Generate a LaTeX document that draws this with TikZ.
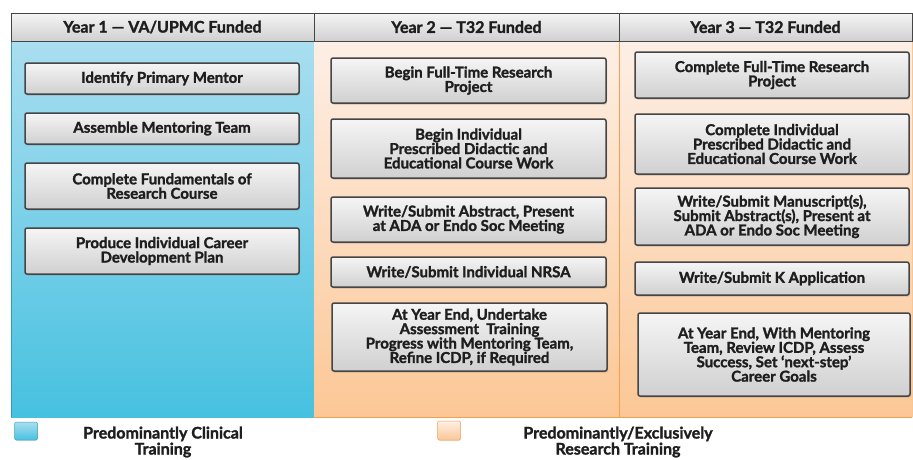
\documentclass[tikz,border=0pt]{standalone}
\usepackage{fontspec}
\setmainfont{Lato}[BoldFeatures={FakeBold=1.6}]
\usetikzlibrary{shadows}
\definecolor{txt}{HTML}{1E1E1E}
\definecolor{boxedge}{HTML}{454545}
\definecolor{blueTop}{HTML}{AADEF0}
\definecolor{blueBot}{HTML}{46C1E0}
\definecolor{orTop}{HTML}{FDEFE6}
\definecolor{orBot}{HTML}{FCC795}
\definecolor{orEdge}{HTML}{F2A04E}
\definecolor{grTop}{HTML}{F5F5F5}
\definecolor{grBot}{HTML}{D0D0D0}
\tikzset{
  box/.style={draw=boxedge, line width=1.5pt, rounded corners=2pt, top color=grTop, bottom color=grBot,
    inner sep=0pt, align=center, text=txt, font=\fontsize{15}{14.4}\selectfont\bfseries,
    drop shadow={shadow xshift=1pt, shadow yshift=-1.5pt, opacity=0.35}},
  hdr/.style={draw=boxedge, line width=1pt, top color=grTop, bottom color=grBot, inner sep=0pt,
    minimum height=28, text=txt, font=\fontsize{16}{18}\selectfont\bfseries},
  leg/.style={align=center, text=txt, font=\fontsize{16}{16}\selectfont\bfseries},
}
\begin{document}
\begin{tikzpicture}[x=1pt,y=-1pt]
\useasboundingbox (0,0) rectangle (913,459);
% panels
\fill[top color=blueTop, bottom color=blueBot] (11,41) rectangle (314,417);
\fill[top color=orTop, bottom color=orBot] (314,41) rectangle (619,417);
\fill[top color=orTop, bottom color=orBot] (619,41) rectangle (912,417);
\draw[orEdge, line width=1pt] (619,41) -- (619,417);
\draw[orEdge, line width=0.8pt] (314,417) -- (912,417);
\draw[orEdge!60, line width=0.8pt] (912,41) -- (912,417);
\draw[blueBot!80!black, line width=0.6pt] (11,41) -- (11,417);
% headers
\node[hdr, minimum width=303] (h1) at (162.5,27) {Year 1 — VA/UPMC Funded};
\node[hdr, minimum width=305] (h2) at (466.5,27) {Year 2 — T32 Funded};
\node[hdr, minimum width=293] (h3) at (765.5,27) {Year 3 — T32 Funded};
% column 1
\node[box, minimum width=274, minimum height=31] (a1) at (162,78.5) {Identify Primary Mentor};
\node[box, minimum width=274, minimum height=31] (a2) at (162,128.5) {Assemble Mentoring Team};
\node[box, minimum width=274, minimum height=46] (a3) at (162,186) {Complete Fundamentals of\\Research Course};
\node[box, minimum width=274, minimum height=46] (a4) at (162,251) {Produce Individual Career\\Development Plan};
% column 2
\node[box, minimum width=275, minimum height=45] (b1) at (468.5,80.5) {Begin Full-Time Research\\Project};
\node[box, minimum width=275, minimum height=59] (b2) at (468.5,148.5) {Begin Individual\\Prescribed Didactic and\\Educational Course Work};
\node[box, minimum width=275, minimum height=45] (b3) at (468.5,219.5) {Write/Submit Abstract, Present\\at ADA or Endo Soc Meeting};
\node[box, minimum width=275, minimum height=30] (b4) at (468.5,272) {Write/Submit Individual NRSA};
\node[box, minimum width=275, minimum height=68] (b5) at (469.5,337) {At Year End, Undertake\\Assessment\ \ Training\\Progress with Mentoring Team,\\Refine ICDP, if Required};
% column 3
\node[box, minimum width=274, minimum height=46] (c1) at (772,75) {Complete Full-Time Research\\Project};
\node[box, minimum width=274, minimum height=60] (c2) at (772,144) {Complete Individual\\Prescribed Didactic and\\Educational Course Work};
\node[box, minimum width=274, minimum height=57] (c3) at (772,216.5) {Write/Submit Manuscript(s),\\Submit Abstract(s), Present at\\ADA or Endo Soc Meeting};
\node[box, minimum width=274, minimum height=33] (c4) at (772,278.5) {Write/Submit K Application};
\node[box, minimum width=272, minimum height=83] (c5) at (774,354.5) {At Year End, With Mentoring\\Team, Review ICDP, Assess\\Success, Set ‘next-step’\\Career Goals};
% legend
\node[draw=blueBot!85!black, line width=0.5pt, rounded corners=2pt, top color=blueTop, bottom color=blueBot,
  minimum width=23, minimum height=18, inner sep=0pt,
  drop shadow={shadow xshift=0.5pt, shadow yshift=-1pt, opacity=0.2}] (lb) at (26,431) {};
\node[draw=orEdge, line width=0.5pt, rounded corners=2pt, top color=orTop, bottom color=orBot,
  minimum width=23, minimum height=19, inner sep=0pt,
  drop shadow={shadow xshift=0.5pt, shadow yshift=-1pt, opacity=0.2}] (lo) at (449,430.5) {};
\node[leg] (t1) at (163,442) {Predominantly Clinical\\Training};
\node[leg] (t2) at (618,442) {Predominantly/Exclusively\\Research Training};
\end{tikzpicture}
\end{document}
